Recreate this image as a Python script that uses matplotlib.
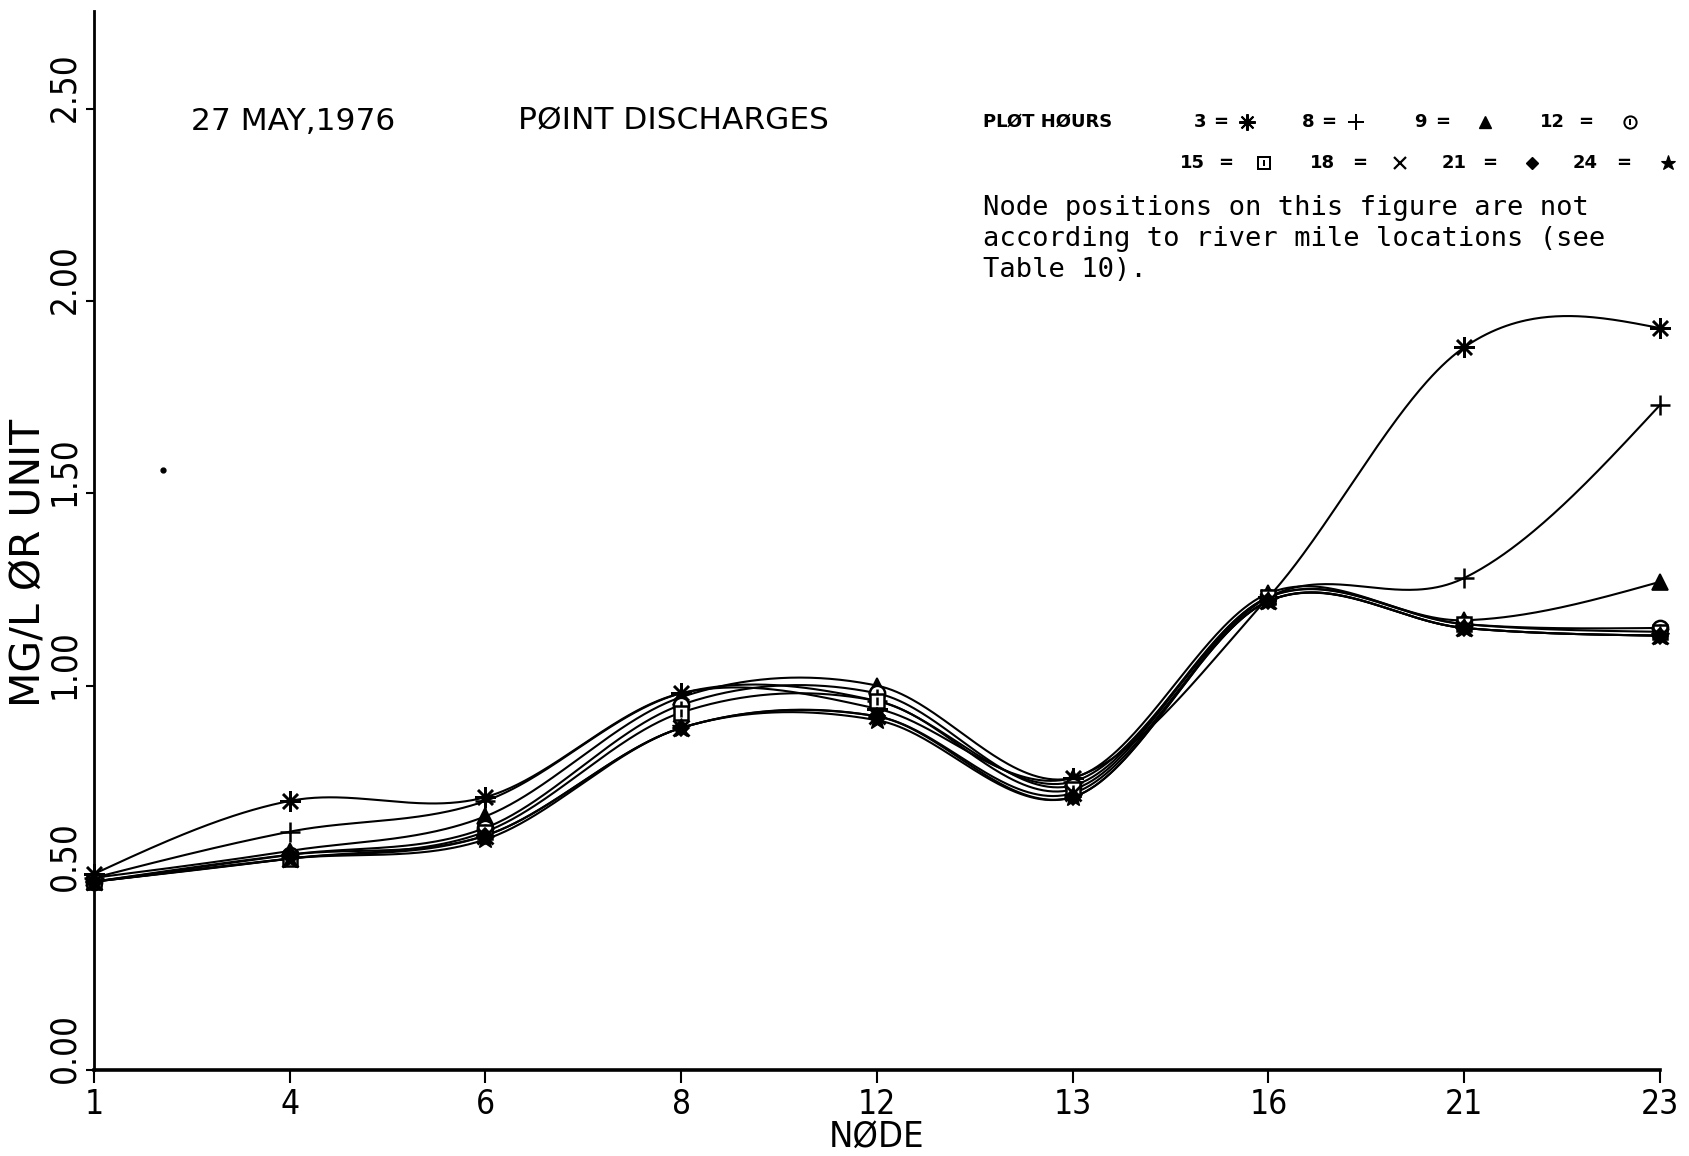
import numpy as np
import matplotlib
matplotlib.use("Agg")
import matplotlib.pyplot as plt
from matplotlib.transforms import ScaledTranslation

# ---- data -------------------------------------------------------------
nodes = ["1", "4", "6", "8", "12", "13", "16", "21", "23"]
hours = [3, 8, 9, 12, 15, 18, 21, 24]

hour3 = [0.51, 0.70, 0.71, 0.98, 0.94, 0.76, 1.23, 1.88, 1.93]
hour8 = [0.50, 0.62, 0.70, 0.98, 0.96, 0.75, 1.23, 1.28, 1.73]
hour9 = [0.50, 0.57, 0.66, 0.97, 1.00, 0.76, 1.24, 1.17, 1.27]
hour12 = [0.49, 0.56, 0.63, 0.95, 0.98, 0.74, 1.23, 1.16, 1.15]
hour15 = [0.49, 0.55, 0.62, 0.93, 0.96, 0.73, 1.23, 1.16, 1.14]
hour18 = [0.49, 0.55, 0.61, 0.89, 0.92, 0.72, 1.22, 1.15, 1.13]
hour21 = [0.49, 0.56, 0.61, 0.89, 0.92, 0.71, 1.22, 1.15, 1.13]
hour24 = [0.49, 0.55, 0.60, 0.89, 0.91, 0.71, 1.22, 1.15, 1.13]

series = [hour3, hour8, hour9, hour12, hour15, hour18, hour21, hour24]

y_ticks = [0.0, 0.5, 1.0, 1.5, 2.0, 2.5]
y_tick_labels = ["0.00", "0.50", "1.00", "1.50", "2.00", "2.50"]

# isolated speck on the plotted sheet (node-axis position, value)
speck = (0.35, 1.56)


# ---- helpers ------------------------------------------------------------
def smooth_curve(y, per_segment=80):
    """Piecewise cubic Hermite curve (Catmull-Rom tangents, free ends)."""
    y = np.asarray(y, dtype=float)
    n = len(y)
    m = np.zeros(n)
    m[1:-1] = (y[2:] - y[:-2]) / 2.0
    m[0] = (3.0 * (y[1] - y[0]) - m[1]) / 2.0
    m[-1] = (3.0 * (y[-1] - y[-2]) - m[-2]) / 2.0
    xs, ys = [], []
    t = np.linspace(0, 1, per_segment)
    h00 = 2 * t ** 3 - 3 * t ** 2 + 1
    h10 = t ** 3 - 2 * t ** 2 + t
    h01 = -2 * t ** 3 + 3 * t ** 2
    h11 = t ** 3 - t ** 2
    for i in range(n - 1):
        xs.append(i + t)
        ys.append(h00 * y[i] + h10 * m[i] + h01 * y[i + 1] + h11 * m[i + 1])
    return np.concatenate(xs), np.concatenate(ys)


W, H = 1690, 1156


def fx(px):
    return px / W


def fy(py):
    return 1 - py / H


# marker styles for each plot hour: (marker, size, filled, edge width)
styles = {
    3: [((8, 2, 0), 15, True, 1.8)],
    8: [("+", 15, True, 1.8)],
    9: [("^", 11, True, 1.2)],
    12: [("o", 11, False, 1.8), ("|", 6, True, 1.8)],
    15: [("s", 10, False, 1.8), ("|", 6, True, 1.8)],
    18: [("x", 11, True, 2.0)],
    21: [("D", 8, True, 1.2)],
    24: [("*", 14, True, 1.0)],
}


def put_marker(target, x, y, hour, scale=1.0, **kw):
    for m, ms, filled, mew in styles[hour]:
        target.plot([x], [y], linestyle="none", marker=m,
                    markersize=ms * scale, markeredgewidth=mew * scale,
                    color="black",
                    markerfacecolor="black" if filled else "white",
                    clip_on=False, zorder=5, **kw)


# ---- figure -------------------------------------------------------------
fig = plt.figure(figsize=(W / 100, H / 100), dpi=100)
ax = fig.add_axes([fx(94), fy(1070), fx(1660) - fx(94), fy(11) - fy(1070)])

x = np.arange(len(nodes))
for hour, vals in zip(hours, series):
    xs, ys = smooth_curve(vals)
    ax.plot(xs, ys, color="black", lw=1.5, zorder=3)
    for xi, yi in zip(x, vals):
        put_marker(ax, xi, yi, hour)

ax.plot([speck[0]], [speck[1]], "o", color="black", markersize=3.5)

ax.set_xlim(0, len(nodes) - 1)
ax.set_ylim(0, 2.755)

for side in ("top", "right"):
    ax.spines[side].set_visible(False)
ax.spines["left"].set_linewidth(2.0)
ax.spines["bottom"].set_linewidth(2.6)

cond = dict(family="DejaVu Sans", fontstretch="condensed")

ax.set_xticks(x)
ax.set_xticklabels(nodes, fontsize=24, **cond)
ax.set_yticks(y_ticks)
ax.set_yticklabels(y_tick_labels, fontsize=25, rotation=90, va="center",
                   **cond)
ax.tick_params(axis="x", direction="out", length=9, width=1.5, pad=4)
ax.tick_params(axis="y", direction="out", length=6, width=1.5, pad=3)
# the decimal point of each value label sits on its tick
for lab in ax.get_yticklabels():
    lab.set_transform(lab.get_transform()
                      + ScaledTranslation(0, 0.22, fig.dpi_scale_trans))

ax.set_xlabel("NØDE", fontsize=26, labelpad=-1, **cond)
fig.text(fx(29), fy(563), "MG/L ØR UNIT", rotation=90, fontsize=29.5,
         family="DejaVu Sans", ha="center", va="center")

# ---- titles -------------------------------------------------------------
fig.text(fx(191), fy(121), "27 MAY,1976", fontsize=22.5,
         family="DejaVu Sans", va="center", ha="left")
fig.text(fx(518), fy(121), "PØINT DISCHARGES", fontsize=22.5,
         family="DejaVu Sans", va="center", ha="left")

# ---- plot-hour key ----------------------------------------------------
bold = dict(fontsize=13, family="DejaVu Sans", fontweight="bold",
            va="center", ha="left")
fig.text(fx(983), fy(122), "PLØT HØURS", **bold)

key_rows = [
    # (hour, number x, '=' x, marker x, row y)
    (3, 1194, 1213, 1247, 122),
    (8, 1302, 1321, 1356, 122),
    (9, 1414, 1435, 1485, 122),
    (12, 1540, 1578, 1630, 122),
    (15, 1180, 1218, 1264, 163),
    (18, 1310, 1352, 1400, 163),
    (21, 1442, 1482, 1532, 163),
    (24, 1573, 1616, 1668, 163),
]
key_ax = fig.add_axes([0, 0, 1, 1], facecolor="none")
key_ax.set_xlim(0, 1)
key_ax.set_ylim(0, 1)
key_ax.axis("off")
for hour, nx, ex, mx, ry in key_rows:
    fig.text(fx(nx), fy(ry), str(hour), **bold)
    fig.text(fx(ex), fy(ry), "=", **bold)
    put_marker(key_ax, fx(mx), fy(ry), hour, scale=0.8)

fig.text(fx(983), fy(195),
         "Node positions on this figure are not\n"
         "according to river mile locations (see\n"
         "Table 10).",
         fontsize=19.5, family="DejaVu Sans Mono", va="top", ha="left",
         linespacing=1.25)

fig.savefig("out.png", dpi=100)
